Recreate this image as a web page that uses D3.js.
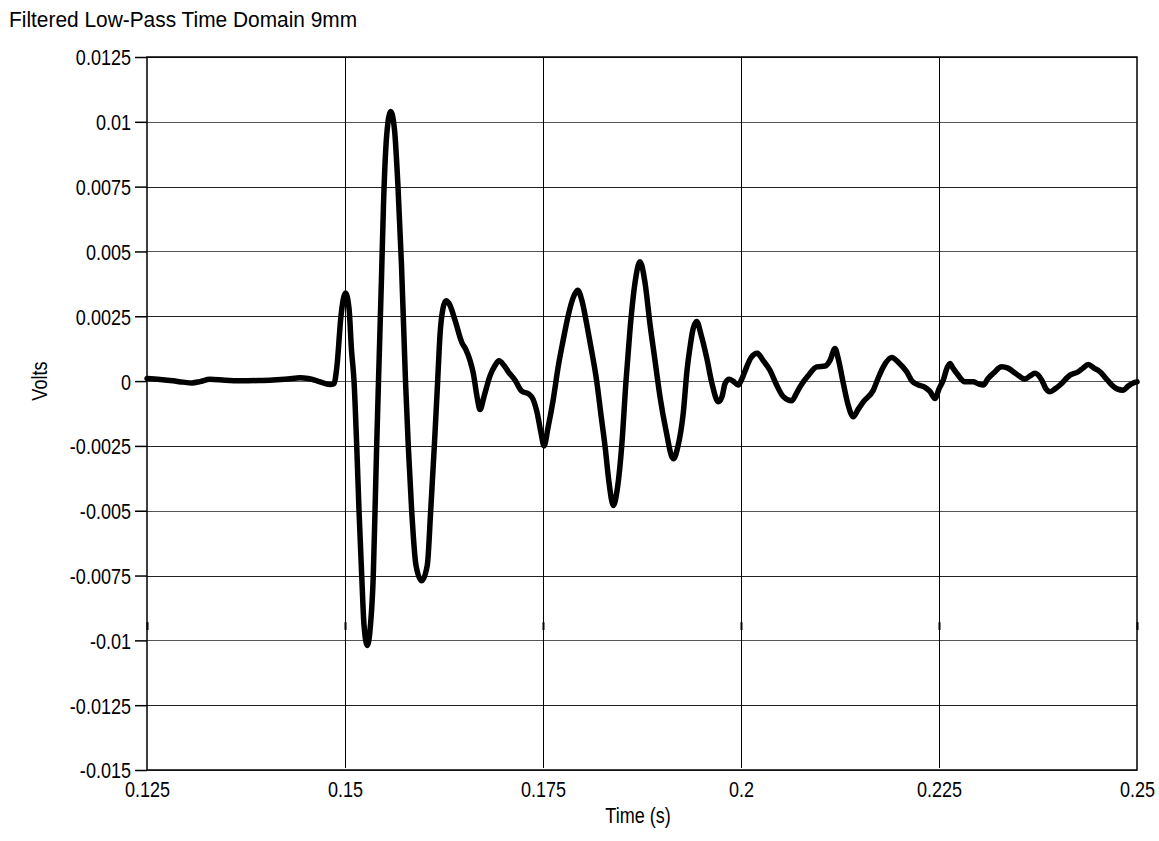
<!DOCTYPE html>
<html>
<head>
<meta charset="utf-8">
<script src="https://cdn.jsdelivr.net/npm/d3@7"></script>
<style>
  html, body { margin: 0; padding: 0; background: #fff; }
  svg { display: block; }
  text { font-family: "Liberation Sans", Arial, sans-serif; fill: #000; }
</style>
</head>
<body>
<svg id="chart" width="1159" height="841"></svg>
<script>
// ---- data ----
const titleText = "Filtered Low-Pass Time Domain 9mm";
const xLabel = "Time (s)";
const yLabel = "Volts";
const xTickValues = [0.125, 0.15, 0.175, 0.2, 0.225, 0.25];
const xTickLabels = ["0.125", "0.15", "0.175", "0.2", "0.225", "0.25"];
const yTickValues = [0.0125, 0.01, 0.0075, 0.005, 0.0025, 0, -0.0025, -0.005, -0.0075, -0.01, -0.0125, -0.015];
const yTickLabels = ["0.0125", "0.01", "0.0075", "0.005", "0.0025", "0", "-0.0025", "-0.005", "-0.0075", "-0.01", "-0.0125", "-0.015"];

// time in milliseconds
const timeMs = [
  125.00, 126.64, 128.28, 129.55, 130.68, 131.69, 132.95, 134.85, 136.74, 139.02,
  140.91, 142.80, 144.32, 145.33, 146.46, 147.35, 148.11, 148.61, 148.99, 149.49,
  150.06, 150.51, 150.82, 151.14, 151.48, 151.77, 152.11, 152.40, 152.82, 153.22,
  153.57, 153.79, 154.00, 154.23, 154.61, 154.86, 155.27, 155.77, 156.25, 156.69,
  157.13, 157.64, 157.99, 158.42, 158.96, 159.68, 160.39, 160.82, 161.28, 161.70,
  162.00, 162.37, 162.75, 163.13, 163.89, 164.74, 165.28, 165.78, 166.20, 166.67,
  167.05, 167.55, 168.31, 168.94, 169.44, 170.08, 170.62, 171.46, 172.31, 173.23,
  173.74, 174.24, 174.75, 175.13, 175.63, 176.30, 176.89, 177.56, 178.16, 178.79,
  179.38, 179.92, 180.52, 181.06, 181.78, 182.32, 182.83, 183.33, 183.88, 184.41,
  184.94, 185.48, 185.99, 186.62, 187.25, 187.88, 188.51, 189.14, 189.77, 190.53,
  191.45, 192.05, 192.72, 193.18, 193.56, 193.94, 194.41, 194.95, 195.67, 196.34,
  197.13, 197.60, 197.98, 198.52, 198.99, 199.66, 200.13, 200.72, 201.26, 202.06,
  202.78, 203.66, 204.42, 205.34, 206.40, 206.95, 207.45, 208.46, 209.56, 210.61,
  211.24, 211.87, 212.25, 212.92, 213.51, 214.18, 214.77, 215.44, 216.70, 217.30,
  217.97, 219.03, 219.95, 220.92, 221.59, 222.39, 223.23, 223.86, 224.50, 225.00,
  225.54, 226.01, 226.39, 226.77, 227.24, 228.28, 229.33, 229.93, 230.59, 231.19,
  231.86, 232.92, 233.71, 234.38, 235.10, 235.86, 236.49, 237.12, 237.97, 238.51,
  239.02, 239.65, 240.28, 241.54, 242.59, 243.18, 243.85, 244.57, 245.33, 246.09,
  246.81, 247.48, 248.27, 248.86, 249.53, 250.00
];
const volts = [
  0.0001, 0.00006, 0.00001, -0.00004, -0.00007, -0.00002, 0.00007, 0.00003, 0.00001, 0.00002,
  0.00004, 0.00008, 0.00013, 0.0001, 0.00001, -0.00008, -0.00013, -0.0001, 0.0006, 0.0025,
  0.0034, 0.0028, 0.0012, 0, -0.0025, -0.005, -0.0075, -0.0094, -0.0102, -0.0094,
  -0.0075, -0.005, -0.0025, 0, 0.004, 0.0068, 0.0095, 0.0104, 0.0097, 0.0075,
  0.0045, 0, -0.0025, -0.005, -0.0071, -0.0077, -0.0071, -0.005, -0.0025, 0,
  0.0018, 0.0028, 0.0031, 0.003, 0.00235, 0.0015, 0.0012, 0.0008, 0.0003, -0.0006,
  -0.0011, -0.0006, 0.0002, 0.0006, 0.00078, 0.0006, 0.00036, 0.00004, -0.00039, -0.0005,
  -0.0007, -0.0012, -0.002, -0.0025, -0.0018, -0.0007, 0.0005, 0.0016, 0.0025, 0.0032,
  0.0035, 0.0031, 0.0022, 0.0013, 0, -0.0013, -0.0025, -0.0039, -0.0048, -0.0041,
  -0.0025, 0, 0.002, 0.0038, 0.0046, 0.0038, 0.0022, 0.0008, -0.0006, -0.0019,
  -0.003, -0.0025, -0.0012, 0.0004, 0.0013, 0.002, 0.0023, 0.0018, 0.0009, -0.0001,
  -0.0008, -0.0006, -0.0001, 0.00007, 0, -0.00015, 0.0001, 0.00055, 0.0009, 0.00107,
  0.0008, 0.00042, -0.0001, -0.0006, -0.00076, -0.0005, -0.00022, 0.0002, 0.00055, 0.00058,
  0.0008, 0.00126, 0.0009, -0.00009, -0.0009, -0.00138, -0.0011, -0.0008, -0.00035, 0.0001,
  0.00055, 0.00091, 0.0007, 0.00036, 0, -0.00015, -0.00024, -0.0004, -0.00067, -0.0003,
  0.00004, 0.0005, 0.00068, 0.0005, 0.0003, -0.00003, -0.00003, -0.0001, -0.00015, 0.0001,
  0.0003, 0.00055, 0.0005, 0.00036, 0.0002, 0.00008, 0.0002, 0.0003, 0.00004, -0.0003,
  -0.00041, -0.0003, -0.00015, 0.00023, 0.00036, 0.0005, 0.00064, 0.0005, 0.00036, 0.0001,
  -0.00015, -0.0003, -0.00035, -0.0002, -0.00007, -0.00003
];

// ---- layout ----
const W = 1159, H = 841;
const margin = { left: 147, right: 22, top: 57, bottom: 71 };
const NARROW = 0.82;   // horizontal squeeze to mimic a narrow face
const FS = 22;
const svg = d3.select("#chart");

const x = d3.scaleLinear().domain([0.125, 0.25]).range([margin.left, W - margin.right]);
const y = d3.scaleLinear().domain([-0.015, 0.0125]).range([H - margin.bottom, margin.top]);

const data = timeMs.map((t, i) => ({ t: t / 1000, v: volts[i] }));

// horizontal grid
svg.append("g").selectAll("line").data(yTickValues).join("line")
  .attr("x1", x(0.125)).attr("x2", x(0.25))
  .attr("y1", d => Math.round(y(d)) + 0.5).attr("y2", d => Math.round(y(d)) + 0.5)
  .attr("stroke", (d, i) => (i % 2 === 0 ? "#222" : "#555")).attr("stroke-width", 1.2);

// vertical grid
svg.append("g").selectAll("line").data(xTickValues.slice(1, -1)).join("line")
  .attr("x1", d => Math.round(x(d)) + 0.5).attr("x2", d => Math.round(x(d)) + 0.5)
  .attr("y1", y(0.0125)).attr("y2", y(-0.015) - 2)
  .attr("stroke", "#000").attr("stroke-width", 1);

// small marker dashes
svg.append("g").selectAll("line").data(xTickValues).join("line")
  .attr("x1", d => x(d) + 0.5).attr("x2", d => x(d) + 0.5)
  .attr("y1", y(-0.0093)).attr("y2", y(-0.0096))
  .attr("stroke", "#000").attr("stroke-width", 2);

// frame
svg.append("rect")
  .attr("x", x(0.125)).attr("y", y(0.0125))
  .attr("width", x(0.25) - x(0.125)).attr("height", y(-0.015) - y(0.0125))
  .attr("fill", "none").attr("stroke", "#000").attr("stroke-width", 1.5);

// y axis ticks + labels
const ySize = 12, yPad = 4;
const yAxis = d3.axisLeft(y).tickValues(yTickValues)
  .tickFormat((d, i) => yTickLabels[i]).tickSize(ySize).tickPadding(yPad);
const gy = svg.append("g").attr("transform", `translate(${x(0.125)},0)`).call(yAxis);
gy.select(".domain").remove();
gy.selectAll(".tick line").attr("stroke", "#000").attr("stroke-width", 1.5);
gy.selectAll(".tick text").attr("font-size", FS).attr("dy", "0.36em")
  .attr("x", -(ySize + yPad) / NARROW).attr("transform", `scale(${NARROW},1)`)
  .style("font-family", '"Liberation Sans", Arial, sans-serif');

// x axis labels
const xAxis = d3.axisBottom(x).tickValues(xTickValues)
  .tickFormat((d, i) => xTickLabels[i]).tickSize(0).tickPadding(11);
const gx = svg.append("g").attr("transform", `translate(0,${y(-0.015)})`).call(xAxis);
gx.select(".domain").remove();
gx.selectAll(".tick text").attr("font-size", FS).attr("transform", `scale(${NARROW},1)`)
  .style("font-family", '"Liberation Sans", Arial, sans-serif');

// line
svg.append("path").datum(data)
  .attr("fill", "none").attr("stroke", "#000").attr("stroke-width", 5.5)
  .attr("stroke-linejoin", "round").attr("stroke-linecap", "round")
  .attr("d", d3.line().x(d => x(d.t)).y(d => y(d.v)).curve(d3.curveMonotoneX));

// titles
svg.append("text").attr("transform", "translate(9,27) scale(0.95,1)")
  .attr("font-size", FS).text(titleText);
svg.append("text").attr("transform", `translate(638,823) scale(${NARROW},1)`)
  .attr("text-anchor", "middle").attr("font-size", FS).text(xLabel);
svg.append("text").attr("transform", `translate(47,${y(0)}) rotate(-90) scale(${NARROW},1)`)
  .attr("text-anchor", "middle").attr("font-size", FS).text(yLabel);
</script>
</body>
</html>
